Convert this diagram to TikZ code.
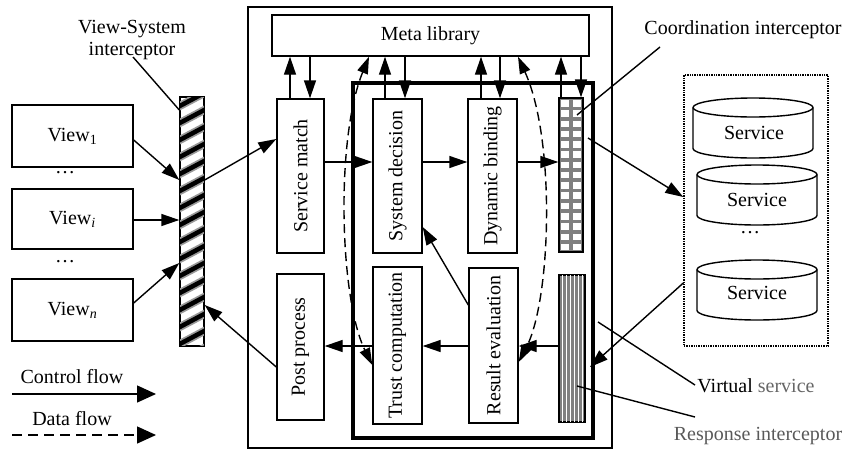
\documentclass[tikz,border=0pt]{standalone}
\usepackage{fontspec}
\setmainfont{Liberation Serif}
\usetikzlibrary{arrows.meta,calc}
\begin{document}
\begin{tikzpicture}[x=1pt,y=-1pt,
  every node/.style={font=\fontsize{20}{23}\selectfont, inner sep=0pt},
  box/.style={draw, line width=1.4pt, fill=white},
  ln/.style={line width=1.4pt},
  arr/.style={ln, -{Triangle[length=18pt,width=12pt]}},
  bigarr/.style={ln, -{Triangle[length=19pt,width=17pt]}},
  darr/.style={ln, dash pattern=on 9pt off 5pt, {Triangle[length=17pt,width=11pt]}-{Triangle[length=17pt,width=11pt]}},
  vtext/.style={rotate=90},
  lbl/.style={anchor=center}
]
\useasboundingbox (0,0) rectangle (848,450);

% helper coordinates
\foreach \n/\v in {y136/136, y140/140, y180/180, y220/220, y303/303, y263/263, y139/139, y162/162, y227/227, y305/305, y346/346, y362/362, y365/365, y367/367}
  \coordinate (\n) at (0,\v);
\foreach \n/\v in {m1u/290, m1d/310, m2u/385, m2d/405, m3u/481, m3d/500, m4u/561, m4d/581, xl/369, xr/518}
  \coordinate (\n) at (\v,0);

% views
\node[box, minimum width=121, minimum height=62] (v1) at (72.5,136) {View\textsubscript{1}};
\node[box, minimum width=121, minimum height=60] (vi) at (72.5,219) {View\textsubscript{\textit{i}}};
\node[box, minimum width=121, minimum height=62] (vn) at (72.5,310) {View\textsubscript{\textit{n}}};
\node (d1) at (65,173) {\dots};
\node (d2) at (65,262) {\dots};

% View-System interceptor (hatched)
\node[box, minimum width=24, minimum height=249] (vsi) at (192,221.5) {};
\begin{scope}
  \clip (180,97) rectangle (204,346);
  \foreach \k in {0,...,16} {
    \draw[line width=8pt, black!40] (176,108+\k*17) -- (208,108+\k*17-17);
    \draw[line width=4.5pt, black] (176,108+\k*17) -- (208,108+\k*17-17);
  }
\end{scope}
\draw[line width=1.4pt] (vsi.north west) rectangle (vsi.south east);
\node[align=center] (vsil) at (132,40) {View-System\\[-1pt]interceptor};
\coordinate (vsilp) at (133,57);
\draw[ln] (vsilp) -- (vsi.north west |- 0,110);

% view arrows
\draw[arr] (v1.east |- y140) -- (vsi.west |- y180);
\draw[arr] (vi.east |- y220) -- (vsi.west |- y220);
\draw[arr] (vn.east |- y303) -- (vsi.west |- y263);

% legend
\node (cf) at (72,377) {Control flow};
\coordinate (cfa) at (12,394);
\coordinate (cfb) at (156,394);
\draw[bigarr] (cfa) -- (cfb);
\node (df) at (72,419) {Data flow};
\coordinate (dfa) at (12,435);
\coordinate (dfb) at (156,435);
\draw[ln, dash pattern=on 10pt off 6pt, -{Triangle[length=19pt,width=17pt]}] (dfa) -- (dfb);

% outer system box
\node[box, minimum width=364, minimum height=441] (sys) at (430,227.5) {};
\node[box, minimum width=317, minimum height=41] (meta) at (430.5,35.5) {Meta library};
\node[draw, line width=3.5pt, minimum width=240, minimum height=355] (virt) at (473,260.5) {};

% process boxes
\node[box, minimum width=47, minimum height=154] (sm) at (300.5,176) {};
\node[vtext] (smt) at (sm) {Service match};
\node[box, minimum width=49, minimum height=154] (sd) at (397.5,176) {};
\node[vtext] (sdt) at (sd) {System decision};
\node[box, minimum width=49, minimum height=154] (db) at (492.5,176) {};
\node[vtext] (dbt) at (db) {Dynamic binding};
\node[box, minimum width=47, minimum height=146] (pp) at (300.5,347) {};
\node[vtext] (ppt) at (pp) {Post process};
\node[box, minimum width=49, minimum height=157] (tc) at (397.5,345.5) {};
\node[vtext] (tct) at (tc) {Trust computation};
\node[box, minimum width=49, minimum height=155] (re) at (493.5,345.5) {};
\node[vtext] (ret) at (re) {Result evaluation};

% coordination interceptor (grid)
\node[draw, line width=1.4pt, fill=black!50, minimum width=24, minimum height=154] (grid) at (571,175) {};
\foreach \c in {0,1}
  \foreach \r in {0,...,14}
    \fill[white] (559+\c*12+2.2,98+\r*10.27+2) rectangle ++(8,6.6);
\draw[line width=1.4pt] (grid.north west) rectangle (grid.south east);

% response interceptor (stripes)
\node[draw, line width=1.4pt, fill=black!50, minimum width=26, minimum height=147] (resp) at (572,348.5) {};
\foreach \k in {0,...,5}
  \draw[white, line width=1.6pt] (562.5+\k*4,275) -- (562.5+\k*4,422);
\draw[line width=1.4pt] (resp.north west) rectangle (resp.south east);

% meta library arrows
\draw[arr] (sm.north -| m1u) -- (meta.south -| m1u);
\draw[arr] (meta.south -| m1d) -- (sm.north -| m1d);
\draw[arr] (sd.north -| m2u) -- (meta.south -| m2u);
\draw[arr] (meta.south -| m2d) -- (sd.north -| m2d);
\draw[arr] (db.north -| m3u) -- (meta.south -| m3u);
\draw[arr] (meta.south -| m3d) -- (db.north -| m3d);
\draw[arr] (grid.north -| m4u) -- (meta.south -| m4u);
\draw[arr] (meta.south -| m4d) -- (grid.north -| m4d);

% control flow
\draw[arr] (vsi.east |- y180) -- (sm.west |- y139);
\draw[arr] (sm.east |- y162) -- (sd.west |- y162);
\draw[arr] (sd.east |- y162) -- (db.west |- y162);
\draw[arr] (db.east |- y162) -- (grid.west |- y162);
\draw[arr] (resp.west |- y346) -- (re.east |- y346);
\draw[arr] (re.west |- y346) -- (tc.east |- y346);
\draw[arr] (tc.west |- y346) -- (pp.east |- y346);
\draw[arr] (re.west |- y305) -- (sd.east |- y227);
\draw[arr] (pp.west |- y367) -- (vsi.east |- y305);

% data flow
\draw[darr] (meta.south -| xl) .. controls (335,140) and (340,300) .. (tc.west |- y365);
\draw[darr] (meta.south -| xr) .. controls (556,140) and (551,300) .. (re.east |- y362);

% services
\node[draw, line width=1.4pt, densely dotted, minimum width=144, minimum height=271] (pool) at (756,210.5) {};
\foreach \nm/\xa/\yt/\yb in {s1/693/107.5/148.5, s2/697/174.5/215.5, s3/697/269.5/310.5} {
  \draw[ln, fill=white] (\xa,\yt) -- (\xa,\yb) arc (180:360:60pt and 9.5pt) -- (\xa+120,\yt) arc (0:180:60pt and 9.5pt) -- cycle;
  \draw[ln] (\xa,\yt) arc (180:360:60pt and 9.5pt);
}
\node (s1) at (754,133) {Service};
\node (s2) at (757,200) {Service};
\node (d3) at (750,233) {\dots};
\node (s3) at (757,293) {Service};

\coordinate (ga) at (588,138);
\draw[arr] (ga) -- (pool.west |- 0,197);
\coordinate (rb) at (590,367);
\draw[arr] (pool.west |- 0,283) -- (rb);

% labels
\node (coordl) at (743,30) {Coordination interceptor};
\coordinate (cl1) at (660,47);
\coordinate (cl2) at (577,115);
\draw[ln] (cl1) -- (cl2);
\node (virtl) at (756,386) {Virtual \textcolor{black!60}{service}};
\coordinate (vl1) at (695,385);
\coordinate (vl2) at (598,322);
\draw[ln] (vl1) -- (vl2);
\node[text=black!65] (respl) at (758,436) {Response interceptor};
\coordinate (rl1) at (695,417);
\coordinate (rl2) at (577,386);
\draw[ln] (rl1) -- (rl2);
\end{tikzpicture}
\end{document}
